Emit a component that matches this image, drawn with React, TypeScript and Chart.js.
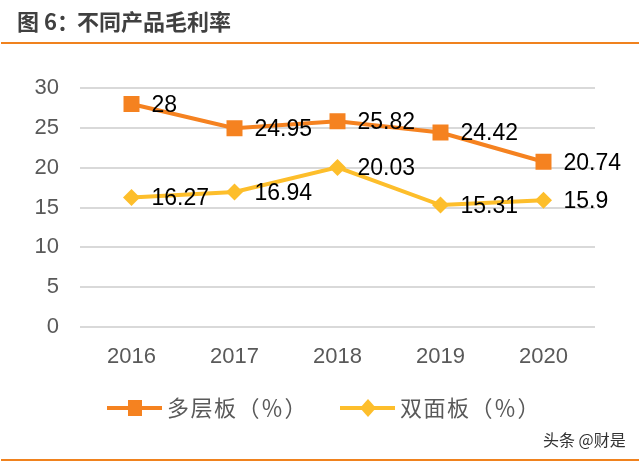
import React, { useEffect, useRef } from "react";
import { Chart, registerables } from "chart.js";

Chart.register(...registerables);

const categories = ["2016", "2017", "2018", "2019", "2020"];
const multilayer = [28, 24.95, 25.82, 24.42, 20.74];
const doubleSided = [16.27, 16.94, 20.03, 15.31, 15.9];
const seriesNames = ["多层板（％）", "双面板（％）"];
const titlePrefix = "图 6：";
const titleMain = "不同产品毛利率";
const watermark = "头条 @财是";

const ORANGE = "#F58220";
const YELLOW = "#FDBE2B";
const CJK = '"Noto Sans CJK SC", "Liberation Sans", sans-serif';
const LATIN = '"Liberation Sans", Arial, sans-serif';

const decorPlugin = {
  id: "decor",
  afterDraw(chart: any) {
    const ctx = chart.ctx;
    ctx.save();
    // title
    ctx.fillStyle = "#404040";
    ctx.font = `bold 22px ${CJK}`;
    ctx.textBaseline = "middle";
    ctx.textAlign = "left";
    ctx.fillText(titlePrefix, 17, 22);
    ctx.fillText(titleMain, 77, 22);
    // top rule
    ctx.fillStyle = "#F0821E";
    ctx.fillRect(1, 42, 638, 2);
    // bottom rule
    ctx.fillRect(1, 459, 638, 2);
    // watermark
    ctx.fillStyle = "#333333";
    ctx.font = `16px ${CJK}`;
    ctx.fillText(watermark, 543, 440);

    // data labels
    ctx.fillStyle = "#000000";
    ctx.font = `23px ${LATIN}`;
    ctx.textBaseline = "middle";
    chart.data.datasets.forEach((ds: any, i: number) => {
      const meta = chart.getDatasetMeta(i);
      meta.data.forEach((pt: any, j: number) => {
        ctx.fillText(String(ds.data[j]), pt.x + 20, pt.y + 1.5);
      });
    });

    // legend
    const ly = 408;
    const items = [
      { x: 107, color: ORANGE, shape: "square", label: seriesNames[0] },
      { x: 340, color: YELLOW, shape: "diamond", label: seriesNames[1] },
    ];
    items.forEach((it) => {
      ctx.strokeStyle = it.color;
      ctx.lineWidth = 4;
      ctx.beginPath();
      ctx.moveTo(it.x, ly);
      ctx.lineTo(it.x + 55, ly);
      ctx.stroke();
      ctx.fillStyle = it.color;
      const cx = it.x + 28;
      if (it.shape === "square") {
        ctx.fillRect(cx - 7, ly - 8, 14, 16);
      } else {
        ctx.beginPath();
        ctx.moveTo(cx, ly - 9);
        ctx.lineTo(cx + 8, ly);
        ctx.lineTo(cx, ly + 9);
        ctx.lineTo(cx - 8, ly);
        ctx.closePath();
        ctx.fill();
      }
      ctx.fillStyle = "#595959";
      ctx.font = `22px ${CJK}`;
      ctx.textAlign = "left";
      (ctx as any).letterSpacing = "1.5px";
      ctx.fillText(it.label, it.x + 60, ly);
      (ctx as any).letterSpacing = "0px";
    });
    ctx.restore();
  },
};

export default function App() {
  const ref = useRef<HTMLCanvasElement>(null);
  useEffect(() => {
    if (!ref.current) return;
    const chart = new Chart(ref.current, {
      type: "line",
      data: {
        labels: categories,
        datasets: [
          {
            label: seriesNames[0],
            data: multilayer,
            borderColor: ORANGE,
            backgroundColor: ORANGE,
            borderWidth: 4,
            pointStyle: "rect",
            pointRadius: 11.3,
            pointHoverRadius: 11.3,
            pointBorderWidth: 0,
            tension: 0,
          },
          {
            label: seriesNames[1],
            data: doubleSided,
            borderColor: YELLOW,
            backgroundColor: YELLOW,
            borderWidth: 4,
            pointStyle: "rectRot",
            pointRadius: 8.5,
            pointHoverRadius: 8.5,
            pointBorderWidth: 0,
            tension: 0,
          },
        ],
      },
      options: {
        animation: false,
        responsive: false,
        layout: { padding: { left: 20, right: 48, top: 88, bottom: 98 } },
        plugins: {
          legend: { display: false },
          tooltip: { enabled: false },
          title: { display: false },
        },
        scales: {
          x: {
            offset: true,
            grid: { display: false, drawTicks: false },
            border: { display: false },
            ticks: {
              color: "#595959",
              font: { family: LATIN, size: 22 },
              padding: 17,
            },
            afterFit: (s: any) => {
              s.height = 40;
            },
          },
          y: {
            min: 0,
            max: 30,
            grid: { color: "#D9D9D9", lineWidth: 2, drawTicks: false },
            border: { display: false },
            ticks: {
              stepSize: 5,
              color: "#595959",
              font: { family: LATIN, size: 22 },
              padding: 21,
            },
            afterFit: (s: any) => {
              s.width = 60;
            },
          },
        },
      },
      plugins: [decorPlugin],
    });
    return () => chart.destroy();
  }, []);
  return (
    <div style={{ position: "fixed", left: 0, top: 0, width: 643, height: 465, background: "#fff" }}>
      <canvas ref={ref} width={643} height={465} style={{ width: 643, height: 465, display: "block" }} />
    </div>
  );
}
